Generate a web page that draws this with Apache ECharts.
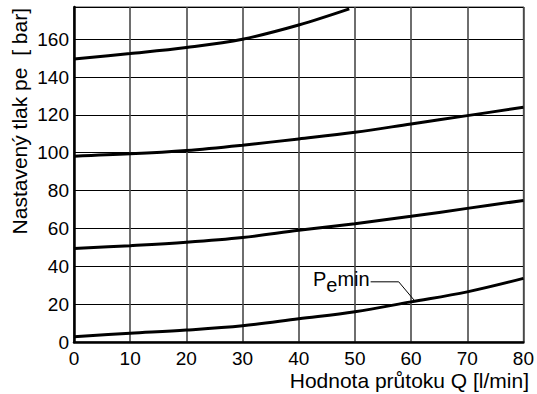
<!DOCTYPE html>
<html>
<head>
<meta charset="utf-8">
<script src="https://cdn.jsdelivr.net/npm/echarts@6/dist/echarts.min.js"></script>
<style>html,body{margin:0;padding:0;background:#fff}#c{width:537px;height:394px}</style>
</head>
<body>
<div id="c"></div>
<script>
const xValues = [0, 10, 20, 30, 40, 50, 60, 70, 80];
const curve150 = [[0, 149.5], [10, 152.4], [20, 155.6], [30, 160], [40, 167.5], [49, 176]];
const curve100 = [98.2, 99.4, 101.2, 104, 107.3, 110.8, 115.2, 119.6, 124];
const curve50 = [49.4, 50.9, 52.7, 55.2, 59, 62.5, 66.4, 70.6, 74.8];
const curveMin = [2.8, 4.6, 6.3, 8.6, 12.3, 16, 21.2, 26.5, 33.6];
const leader = [[52.8, 31.8], [57.8, 31.8], [60.8, 21.2]];
const yTitle = 'Nastavený tlak pe  [ bar]';
const xTitle = 'Hodnota průtoku Q [l/min]';

const pair = arr => xValues.map((x, i) => [x, arr[i]]);
const FONT = 'Liberation Sans, Arial, Helvetica, sans-serif';

const curveStyle = { color: '#000', width: 3 };
function curve(data) {
  return { type: 'line', data, smooth: 0.35, symbol: 'none', lineStyle: curveStyle, clip: true, silent: true };
}

const chart = echarts.init(document.getElementById('c'), null, { renderer: 'svg' });
chart.setOption({
  animation: false,
  backgroundColor: '#fff',
  grid: { left: 74, right: 7, top: 7, bottom: 52, show: true, borderColor: '#444', borderWidth: 1.2 },
  xAxis: {
    type: 'value', min: 0, max: 80, interval: 10,
    axisLine: { lineStyle: { color: '#000', width: 2.5 } },
    axisTick: { show: false },
    splitLine: { lineStyle: { color: '#4a4a4a', width: 1.6 } },
    axisLabel: { color: '#000', fontSize: 19, fontFamily: FONT, margin: 7 }
  },
  yAxis: {
    type: 'value', min: 0, max: 177, interval: 20,
    axisLine: { show: true, lineStyle: { color: '#000', width: 2.5 } },
    axisTick: { show: false },
    splitLine: { lineStyle: { color: '#000', width: 1.2 } },
    axisLabel: { color: '#000', fontSize: 19, fontFamily: FONT, margin: 5,
      formatter: v => (v % 20 === 0 ? String(v) : '') }
  },
  series: [
    curve(curve150),
    curve(pair(curve100)),
    curve(pair(curve50)),
    curve(pair(curveMin)),
    {
      type: 'line', data: leader, symbol: 'none', silent: true,
      lineStyle: { color: '#000', width: 1 },
      label: { show: false },
      markPoint: {
        symbol: 'circle', symbolSize: 0,
        data: [{ coord: leader[0] }],
        label: {
          show: true, position: 'left', distance: 1,
          formatter: '{a|P}{b|e}{a|min}',
          rich: {
            a: { fontSize: 20, fontFamily: FONT, color: '#000', verticalAlign: 'top', padding: [0, 0, 6, 0] },
            b: { fontSize: 20, fontFamily: FONT, color: '#000', verticalAlign: 'bottom', padding: [6, 0, 0, 0] }
          }
        }
      }
    }
  ],
  graphic: [
    { type: 'text', left: 9, top: 8, rotation: Math.PI / 2, origin: [0, 0],
      style: { text: yTitle, font: '21px ' + FONT, fill: '#000' } },
    { type: 'text', right: 8, top: 370,
      style: { text: xTitle, font: '21px ' + FONT, fill: '#000' } }
  ]
});
</script>
</body>
</html>
